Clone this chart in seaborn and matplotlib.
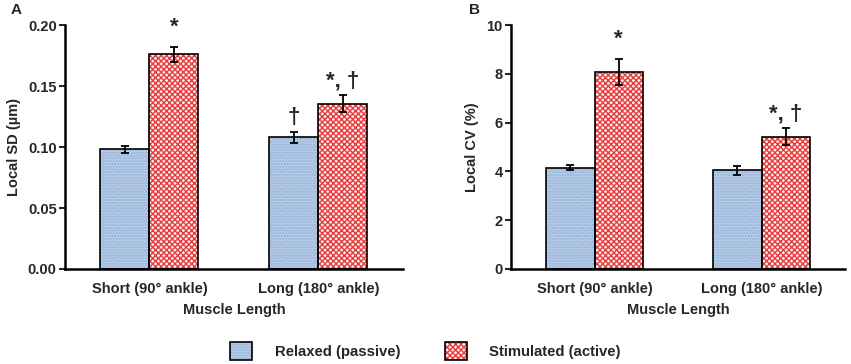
import matplotlib
matplotlib.use("Agg")
import matplotlib.pyplot as plt
import seaborn as sns
import pandas as pd
from matplotlib.patches import Patch

# values
categories = ["Short (90° ankle)", "Long (180° ankle)"]
conditions = ["Relaxed (passive)", "Stimulated (active)"]

sd_relaxed = [0.098, 0.108]
sd_relaxed_err = [0.0027, 0.0045]
sd_stimulated = [0.176, 0.1355]
sd_stimulated_err = [0.006, 0.0068]

cv_relaxed = [4.15, 4.04]
cv_relaxed_err = [0.10, 0.19]
cv_stimulated = [8.07, 5.43]
cv_stimulated_err = [0.53, 0.34]

sd_marks = [["", "†"], ["*", "*, †"]]
cv_marks = [["", ""], ["*", "*, †"]]

sns.set_style("white")
plt.rcParams['font.family'] = ['Liberation Sans', 'DejaVu Sans']
plt.rcParams['font.weight'] = 'bold'
plt.rcParams['hatch.linewidth'] = 1.0

fills = ["#b9cde5", "white"]
hatch_cols = ["#8fb0dc", "#ff3030"]
hatches = ["......", "xxxxxx"]


def draw_panel(ax, relaxed, relaxed_err, stim, stim_err, marks):
    df = pd.DataFrame({
        "Muscle Length": categories * 2,
        "Condition": [conditions[0]] * 2 + [conditions[1]] * 2,
        "value": relaxed + stim,
    })
    # hatched fill first, black outline on top
    sns.barplot(data=df, x="Muscle Length", y="value", hue="Condition",
                palette=fills, width=0.58, errorbar=None, ax=ax,
                legend=False, linewidth=0, saturation=1)
    for k, cont in enumerate(ax.containers):
        for p in cont.patches:
            p.set_edgecolor(hatch_cols[k])
            p.set_hatch(hatches[k])
            p.set_linewidth(0)
    n_fill = len(ax.containers)
    sns.barplot(data=df, x="Muscle Length", y="value", hue="Condition",
                palette=["black", "black"], width=0.58, errorbar=None, ax=ax,
                legend=False, fill=False, linewidth=1.2)
    errs = [relaxed_err, stim_err]
    vals = [relaxed, stim]
    for k, cont in enumerate(ax.containers[n_fill:]):
        xs = [p.get_x() + p.get_width() / 2 for p in cont.patches]
        ax.errorbar(xs, vals[k], yerr=errs[k], fmt="none", ecolor="black",
                    elinewidth=1.3, capsize=3, capthick=1.3, zorder=5)
        for x, v, e, m in zip(xs, vals[k], errs[k], marks[k]):
            if m:
                off = 7 if m == "*" else 3
                ax.annotate(m, (x, v + e), xytext=(0, off), textcoords="offset points",
                            ha="center", va="bottom", fontsize=16, fontweight="bold")
    ax.set_xlim(-0.5, 1.5)
    ax.set_xlabel("Muscle Length", fontsize=10.5, fontweight="bold", labelpad=5)
    sns.despine(ax=ax)
    for s in ["left", "bottom"]:
        ax.spines[s].set_linewidth(1.8)
        ax.spines[s].set_color("black")
    ax.tick_params(axis="y", which="both", left=True, length=4, width=1.5,
                   labelsize=10.5, pad=2)
    ax.tick_params(axis="x", bottom=False, labelsize=10.5, pad=6)
    for lab in ax.get_xticklabels() + ax.get_yticklabels():
        lab.set_fontweight("bold")


fig = plt.figure(figsize=(8.51, 3.64), dpi=100)
axA = fig.add_axes([0.0764, 0.261, 0.397, 0.670])
axB = fig.add_axes([0.6005, 0.261, 0.3925, 0.670])

draw_panel(axA, sd_relaxed, sd_relaxed_err, sd_stimulated, sd_stimulated_err, sd_marks)
axA.set_ylim(0, 0.20)
axA.set_yticks([0, 0.05, 0.10, 0.15, 0.20])
axA.set_yticklabels(["0.00", "0.05", "0.10", "0.15", "0.20"])
axA.set_ylabel("Local SD (µm)", fontsize=10.5, fontweight="bold", labelpad=5)

draw_panel(axB, cv_relaxed, cv_relaxed_err, cv_stimulated, cv_stimulated_err, cv_marks)
axB.set_ylim(0, 10)
axB.set_yticks([0, 2, 4, 6, 8, 10])
axB.set_ylabel("Local CV (%)", fontsize=10.5, fontweight="bold", labelpad=5)

fig.text(0.012, 0.993, "A", fontsize=11, fontweight="bold", va="top")
fig.text(0.551, 0.993, "B", fontsize=11, fontweight="bold", va="top")

# legend swatches: hatched fill with a black frame laid over it
handles = [(Patch(facecolor=fills[k], edgecolor=hatch_cols[k], hatch=hatches[k], linewidth=0),
            Patch(facecolor="none", edgecolor="black", linewidth=1.2)) for k in range(2)]
leg = fig.legend(handles, conditions, loc="center", bbox_to_anchor=(0.5, 0.035),
                 ncol=2, frameon=False, fontsize=10.7, handlelength=1.5,
                 handleheight=1.5, handletextpad=1.5, columnspacing=3.0)
for t in leg.get_texts():
    t.set_fontweight("bold")

fig.savefig("out.png", dpi=100)
